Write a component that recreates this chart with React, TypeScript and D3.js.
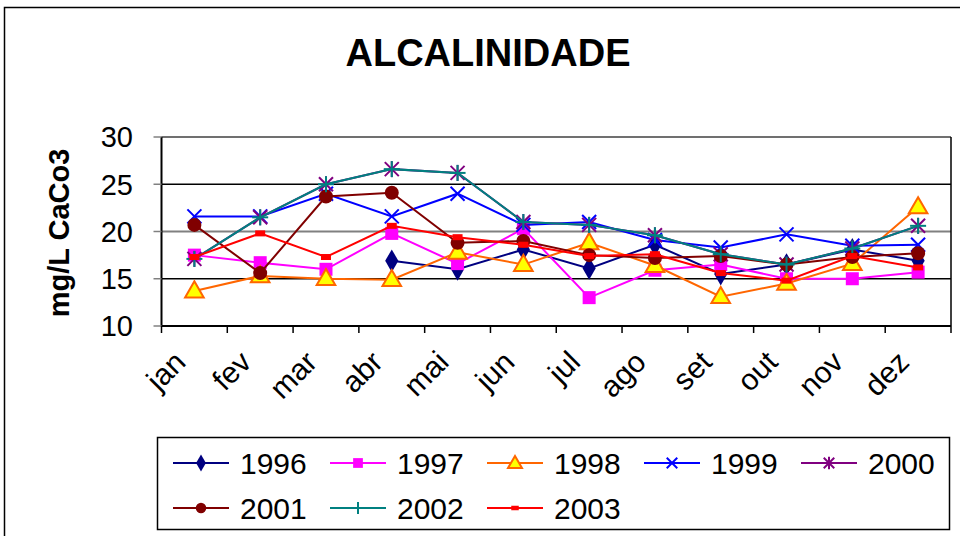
import React from "react";
import * as d3 from "d3";

const months = ["jan", "fev", "mar", "abr", "mai", "jun", "jul", "ago", "set", "out", "nov", "dez"];
const yTicks = [10, 15, 20, 25, 30];
const seriesNames = ["1996", "1997", "1998", "1999", "2000", "2001", "2002", "2003"];

const v1996: (number | null)[] = [null, null, null, 16.9, 16.0, 18.1, 16.1, 18.6, 15.5, 16.5, 18.1, 16.9];
const v1997: (number | null)[] = [17.5, 16.7, 16.0, 19.8, 16.6, 20.3, 13.0, 15.9, 16.5, 15.0, 15.0, 15.7];
const v1998: (number | null)[] = [13.7, 15.3, 15.0, 14.9, 17.8, 16.5, 18.8, 16.4, 13.1, 14.5, 16.6, 22.6];
const v1999: (number | null)[] = [21.6, 21.6, 24.0, 21.6, 24.0, 20.7, 21.0, 19.1, 18.3, 19.7, 18.5, 18.6];
const v2000: (number | null)[] = [17.1, 21.5, 25.0, 26.6, 26.2, 21.0, 20.7, 19.6, 17.6, 16.5, 18.2, 20.6];
const v2001: (number | null)[] = [20.7, 15.6, 23.7, 24.1, 18.8, 19.0, 17.5, 17.2, 17.4, 16.5, 17.3, 17.7];
const v2002: (number | null)[] = [17.1, 21.5, 25.0, 26.6, 26.2, 21.0, 20.7, 19.6, 17.6, 16.5, 18.2, 20.6];
const v2003: (number | null)[] = [17.3, 19.8, 17.3, 20.6, 19.4, 18.6, 17.4, 17.6, 15.6, 14.8, 17.4, 16.2];

const allValues = [v1996, v1997, v1998, v1999, v2000, v2001, v2002, v2003];
const lineColors = ["#000080", "#FF00FF", "#FF6600", "#0000FF", "#800080", "#800000", "#008080", "#FF0000"];
const markerKinds = ["diamond", "square", "triangle", "x", "star", "circle", "plus", "dash"];

const FONT = "'Liberation Sans', Arial, sans-serif";

function Marker({ kind, x, y, color, small }: { kind: string; x: number; y: number; color: string; small?: boolean }) {
  const s = small ? 0.75 : 1;
  switch (kind) {
    case "diamond":
      return <path d={d3.symbol(d3.symbolDiamond, 150 * s * s)()!} transform={`translate(${x},${y})`} fill={color} />;
    case "square":
      return <rect x={x - 6.5 * s} y={y - 6.5 * s} width={13 * s} height={13 * s} fill={color} />;
    case "triangle":
      return (
        <path d={d3.symbol(d3.symbolTriangle, 150 * s * s)()!} transform={`translate(${x},${y + 1})`} fill="#FFFF00" stroke="#FF6600" strokeWidth={2} />
      );
    case "x": {
      const r = 7 * s;
      return (
        <g stroke={color} strokeWidth={2}>
          <line x1={x - r} y1={y - r} x2={x + r} y2={y + r} />
          <line x1={x - r} y1={y + r} x2={x + r} y2={y - r} />
        </g>
      );
    }
    case "star": {
      const r = 7 * s;
      return (
        <g stroke={color} strokeWidth={2}>
          <line x1={x - r} y1={y - r} x2={x + r} y2={y + r} />
          <line x1={x - r} y1={y + r} x2={x + r} y2={y - r} />
          <line x1={x} y1={y - r - 1} x2={x} y2={y + r + 1} />
        </g>
      );
    }
    case "circle":
      return <circle cx={x} cy={y} r={7 * s} fill={color} />;
    case "plus": {
      const r = 8 * s;
      return (
        <g stroke={color} strokeWidth={2}>
          <line x1={x - r} y1={y} x2={x + r} y2={y} />
          <line x1={x} y1={y - r} x2={x} y2={y + r} />
        </g>
      );
    }
    case "dash":
      return <rect x={x - 5 * s} y={y - 3 * s} width={10 * s} height={6 * s} fill={color} />;
    default:
      return null;
  }
}

export default function App() {
  const W = 960;
  const H = 536;
  const left = 161.5;
  const right = 951;
  const top = 137;
  const bottom = 326;

  const x = d3.scaleBand<string>().domain(months).range([left, right]);
  const y = d3.scaleLinear().domain([10, 30]).range([bottom, top]);
  const cx = (m: string) => x(m)! + x.bandwidth() / 2;

  const line = d3
    .line<number | null>()
    .defined((d) => d !== null)
    .x((_, i) => cx(months[i]))
    .y((d) => y(d as number));

  const legendX0 = 240;
  const legendStep = 157;
  const legendRows = [463, 508];

  return (
    <svg width={W} height={H} style={{ position: "absolute", left: 0, top: 0, background: "#fff" }}>
      <rect x={0} y={0} width={W} height={H} fill="#fff" />
      <rect x={4.5} y={7.5} width={1000} height={1000} fill="none" stroke="#000" strokeWidth={1.5} />
      <text x={488} y={66} textAnchor="middle" fontFamily={FONT} fontWeight="bold" fontSize={38}>
        ALCALINIDADE
      </text>

      {/* gridlines */}
      {yTicks.map((t) => (
        <line key={t} x1={left} x2={right} y1={y(t)} y2={y(t)} stroke={t === 20 ? "#808080" : "#000"} strokeWidth={t === 20 ? 2 : 1.5} />
      ))}
      {/* plot border */}
      <line x1={left} x2={right} y1={top} y2={top} stroke="#808080" strokeWidth={1.5} />
      <line x1={right} x2={right} y1={top} y2={bottom} stroke="#000" strokeWidth={1.5} />
      {/* axes */}
      <line x1={left} x2={left} y1={top} y2={bottom} stroke="#000" strokeWidth={2} />
      <line x1={left} x2={right} y1={bottom} y2={bottom} stroke="#000" strokeWidth={2} />
      {yTicks.map((t) => (
        <g key={"yt" + t}>
          <line x1={left - 8} x2={left} y1={y(t)} y2={y(t)} stroke="#808080" strokeWidth={1.5} />
          <text x={133} y={y(t)} dy="0.36em" textAnchor="end" fontFamily={FONT} fontSize={29}>
            {t}
          </text>
        </g>
      ))}
      {months.map((m) => (
        <line key={"xt" + m} x1={x(m)!} x2={x(m)!} y1={bottom} y2={bottom + 7} stroke="#000" strokeWidth={1.5} />
      ))}
      <line x1={right} x2={right} y1={bottom} y2={bottom + 7} stroke="#000" strokeWidth={1.5} />
      {months.map((m) => (
        <text
          key={"xl" + m}
          transform={`translate(${cx(m) - 22},${bottom + 23}) rotate(-45)`}
          textAnchor="end"
          dy="0.7em"
          fontFamily={FONT}
          fontSize={30}
        >
          {m}
        </text>
      ))}
      <text
        transform={`translate(69,233) rotate(-90)`}
        textAnchor="middle"
        fontFamily={FONT}
        fontWeight="bold"
        fontSize={29}
      >
        mg/L CaCo3
      </text>

      {/* series */}
      {allValues.map((vals, si) => (
        <g key={seriesNames[si]}>
          <path d={line(vals)!} fill="none" stroke={lineColors[si]} strokeWidth={2} />
          {vals.map((v, i) =>
            v === null ? null : <Marker key={i} kind={markerKinds[si]} x={cx(months[i])} y={y(v)} color={lineColors[si]} />
          )}
        </g>
      ))}

      {/* legend */}
      <rect x={157.5} y={437.5} width={792} height={92} fill="#fff" stroke="#000" strokeWidth={1.5} />
      {seriesNames.map((name, i) => {
        const row = i < 5 ? 0 : 1;
        const col = i < 5 ? i : i - 5;
        const tx = legendX0 + col * legendStep;
        const ly = legendRows[row];
        return (
          <g key={"lg" + name}>
            <line x1={tx - 67} x2={tx - 11} y1={ly} y2={ly} stroke={lineColors[i]} strokeWidth={2} />
            <Marker kind={markerKinds[i]} x={tx - 39} y={ly} color={lineColors[i]} small />
            <text x={tx} y={ly} dy="0.36em" fontFamily={FONT} fontSize={30}>
              {name}
            </text>
          </g>
        );
      })}
    </svg>
  );
}
